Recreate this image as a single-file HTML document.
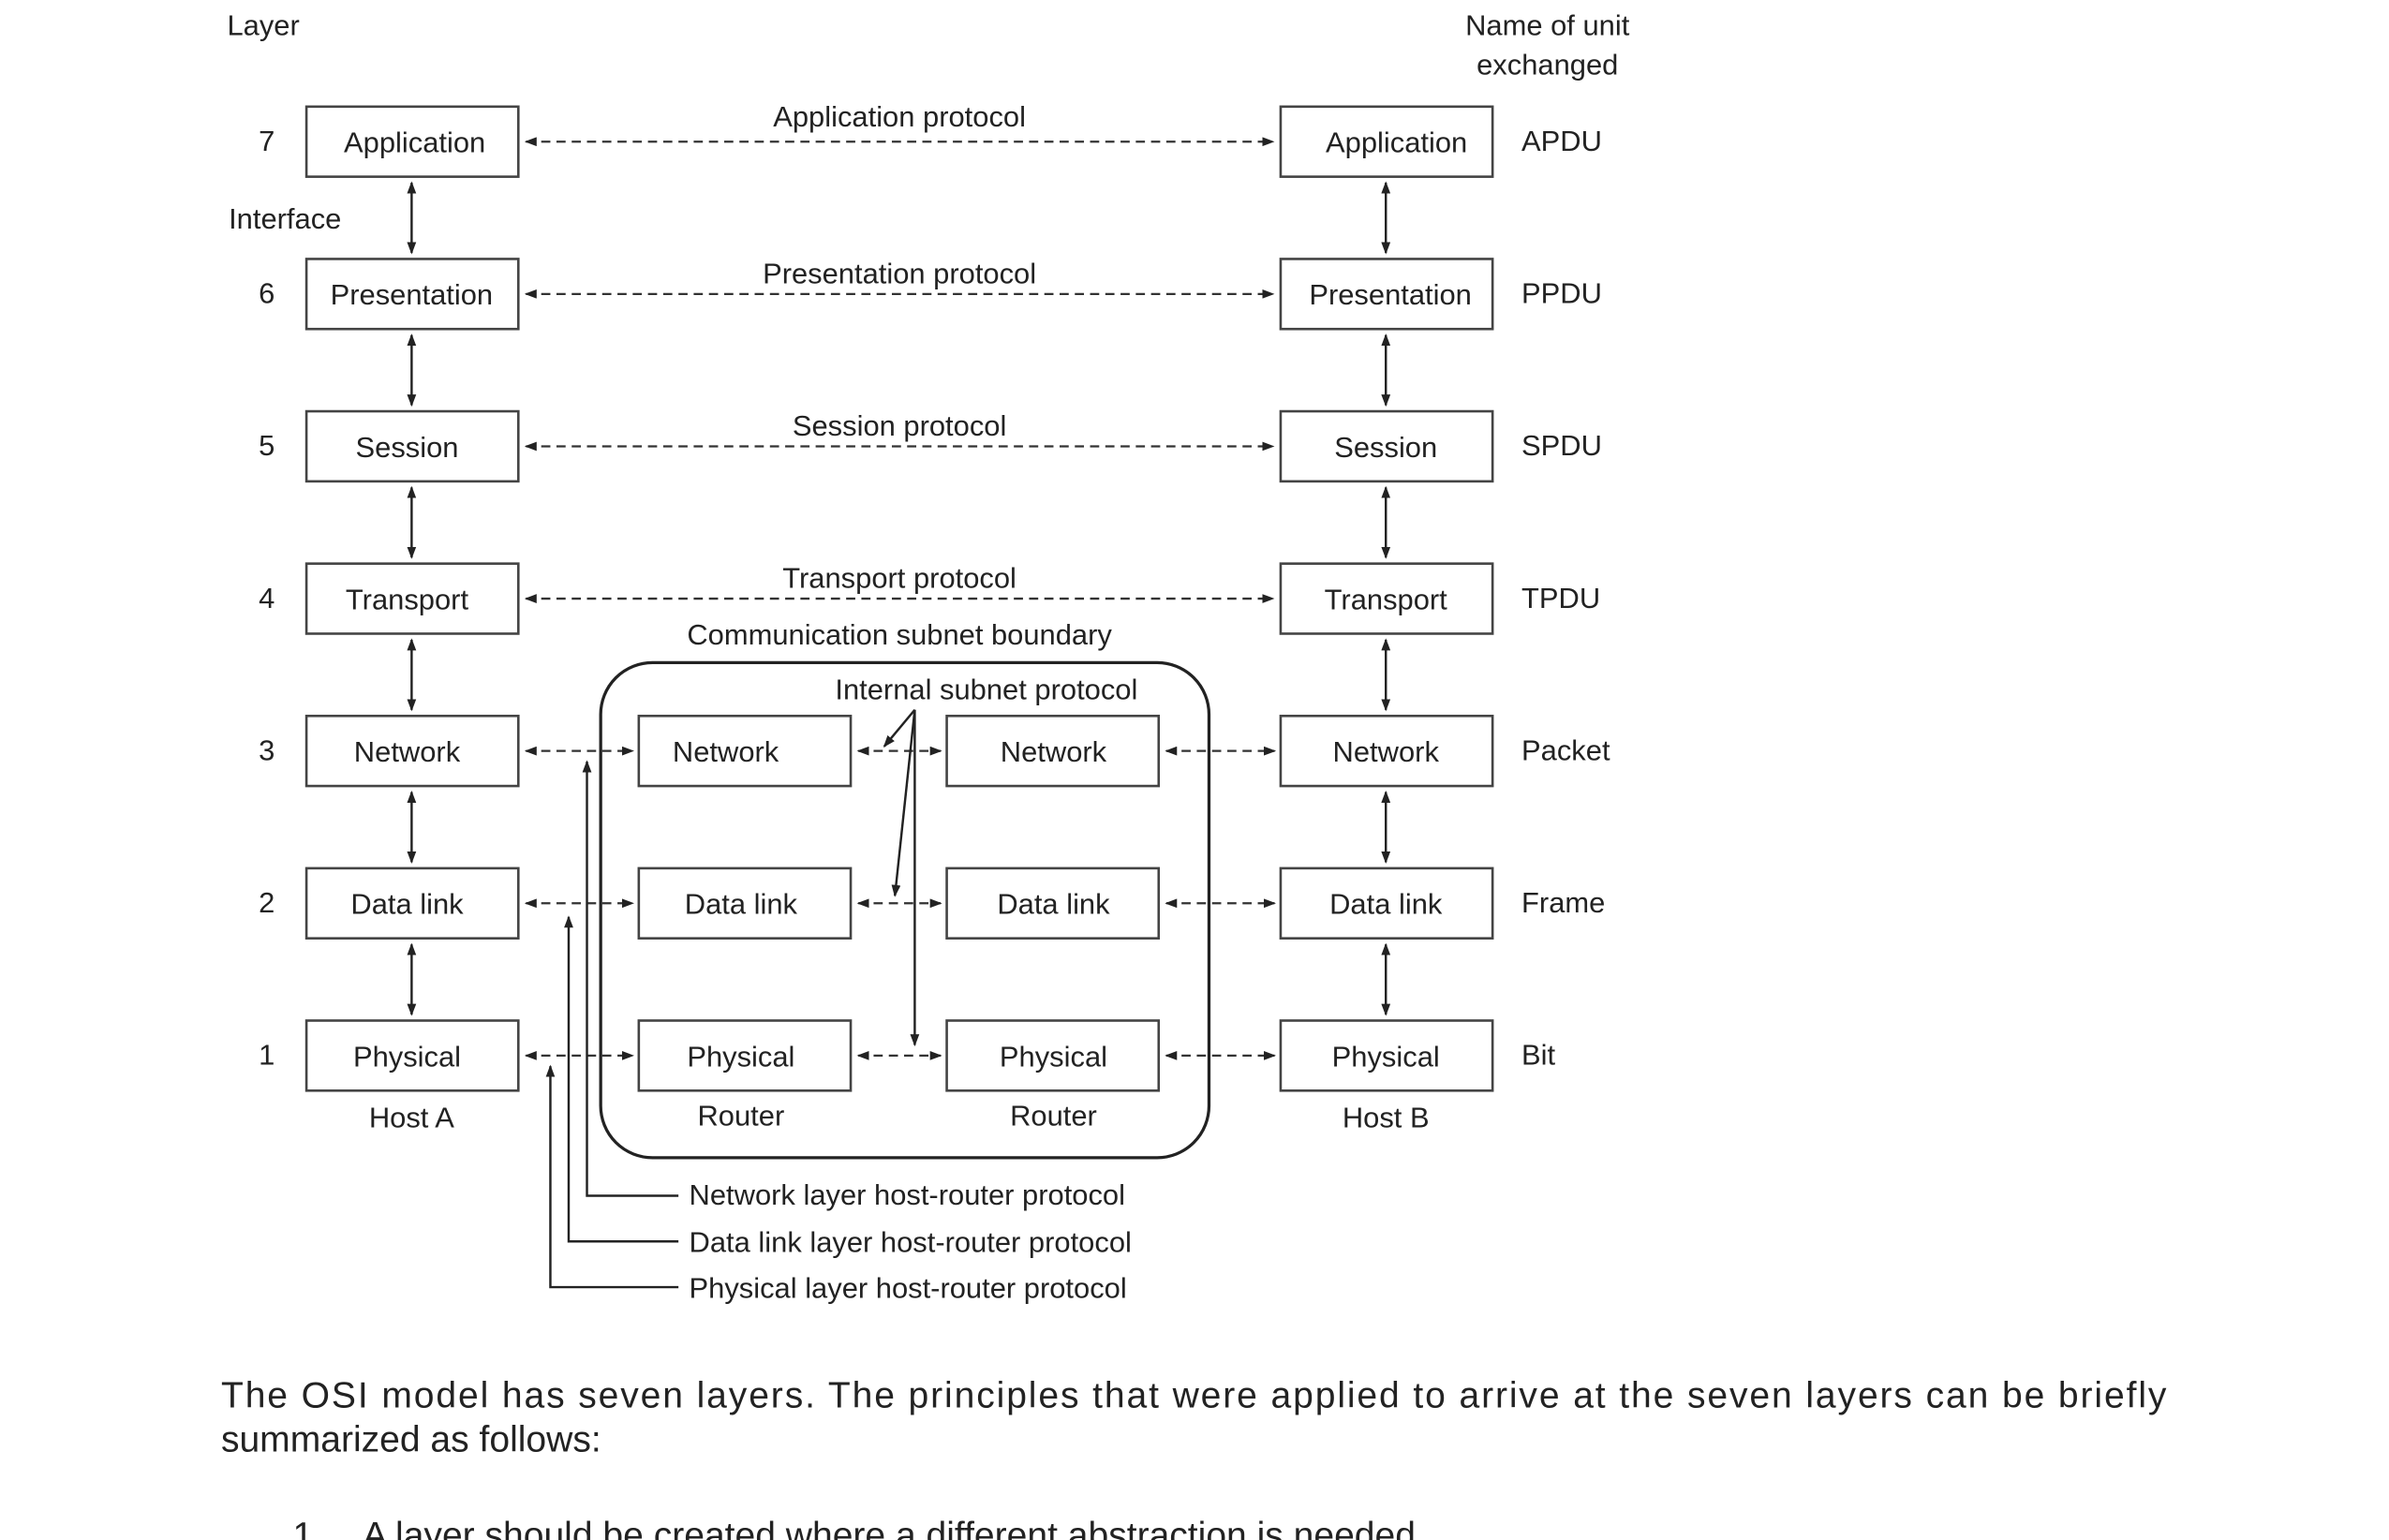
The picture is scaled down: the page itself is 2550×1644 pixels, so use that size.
<!DOCTYPE html>
<html><head><meta charset="utf-8"><style>
html,body{margin:0;padding:0;background:#fff;}
svg{display:block;}
text{font-family:"Liberation Sans",sans-serif;fill:#222;}
</style></head><body>
<svg width="2550" height="1644" viewBox="0 0 1567 1011" preserveAspectRatio="none" xmlns="http://www.w3.org/2000/svg">
<defs>
<marker id="a" markerWidth="8" markerHeight="6" refX="7" refY="3" orient="auto" markerUnits="userSpaceOnUse"><path d="M0,0 L8,3 L0,6 z" fill="#222"/></marker>
<marker id="b" markerWidth="8" markerHeight="6" refX="1" refY="3" orient="auto" markerUnits="userSpaceOnUse"><path d="M8,0 L0,3 L8,6 z" fill="#222"/></marker>
</defs>
<g font-size="19">
<text x="149" y="23">Layer</text>
<text x="1015" y="23" text-anchor="middle">Name of unit</text>
<text x="1015" y="49" text-anchor="middle">exchanged</text>
<text x="150" y="150">Interface</text>
</g>
<g fill="#fff" stroke="#444" stroke-width="1.6">
<rect x="201" y="70" width="139" height="46"/><rect x="201" y="170" width="139" height="46"/>
<rect x="201" y="270" width="139" height="46"/><rect x="201" y="370" width="139" height="46"/>
<rect x="201" y="470" width="139" height="46"/><rect x="201" y="570" width="139" height="46"/>
<rect x="201" y="670" width="139" height="46"/>
<rect x="840" y="70" width="139" height="46"/><rect x="840" y="170" width="139" height="46"/>
<rect x="840" y="270" width="139" height="46"/><rect x="840" y="370" width="139" height="46"/>
<rect x="840" y="470" width="139" height="46"/><rect x="840" y="570" width="139" height="46"/>
<rect x="840" y="670" width="139" height="46"/>
<rect x="394" y="435" width="399" height="325" rx="34" fill="none" stroke="#222" stroke-width="2"/>
<rect x="419" y="470" width="139" height="46"/><rect x="419" y="570" width="139" height="46"/><rect x="419" y="670" width="139" height="46"/>
<rect x="621" y="470" width="139" height="46"/><rect x="621" y="570" width="139" height="46"/><rect x="621" y="670" width="139" height="46"/>
</g>
<g font-size="19" text-anchor="middle">
<text x="272" y="100">Application</text><text x="270" y="200">Presentation</text><text x="267" y="300">Session</text>
<text x="267" y="400">Transport</text><text x="267" y="500">Network</text><text x="267" y="600">Data link</text><text x="267" y="700">Physical</text>
<text x="916" y="100">Application</text><text x="912" y="200">Presentation</text><text x="909" y="300">Session</text>
<text x="909" y="400">Transport</text><text x="909" y="500">Network</text><text x="909" y="600">Data link</text><text x="909" y="700">Physical</text>
<text x="476" y="500">Network</text><text x="486" y="600">Data link</text><text x="486" y="700">Physical</text>
<text x="691" y="500">Network</text><text x="691" y="600">Data link</text><text x="691" y="700">Physical</text>
<text x="270" y="740">Host A</text><text x="486" y="739">Router</text><text x="691" y="739">Router</text><text x="909" y="740">Host B</text>
<text x="590" y="83">Application protocol</text><text x="590" y="186">Presentation protocol</text>
<text x="590" y="286">Session protocol</text><text x="590" y="386">Transport protocol</text>
<text x="590" y="423">Communication subnet boundary</text><text x="647" y="459">Internal subnet protocol</text>
<text x="175" y="99">7</text><text x="175" y="199">6</text><text x="175" y="299">5</text><text x="175" y="399">4</text>
<text x="175" y="499">3</text><text x="175" y="599">2</text><text x="175" y="699">1</text>
</g>
<g font-size="19">
<text x="998" y="99">APDU</text><text x="998" y="199">PPDU</text><text x="998" y="299">SPDU</text><text x="998" y="399">TPDU</text>
<text x="998" y="499">Packet</text><text x="998" y="599">Frame</text><text x="998" y="699">Bit</text>
<text x="452" y="791">Network layer host-router protocol</text>
<text x="452" y="822">Data link layer host-router protocol</text>
<text x="452" y="852">Physical layer host-router protocol</text>
</g>
<g stroke="#333" stroke-width="1.4" stroke-dasharray="6,4" marker-start="url(#b)" marker-end="url(#a)" fill="none">
<line x1="345" y1="93" x2="835" y2="93"/><line x1="345" y1="193" x2="835" y2="193"/>
<line x1="345" y1="293" x2="835" y2="293"/><line x1="345" y1="393" x2="835" y2="393"/>
<line x1="345" y1="493" x2="415" y2="493"/><line x1="345" y1="593" x2="415" y2="593"/><line x1="345" y1="693" x2="415" y2="693"/>
<line x1="563" y1="493" x2="617" y2="493"/><line x1="563" y1="593" x2="617" y2="593"/><line x1="563" y1="693" x2="617" y2="693"/>
<line x1="765" y1="493" x2="836" y2="493"/><line x1="765" y1="593" x2="836" y2="593"/><line x1="765" y1="693" x2="836" y2="693"/>
</g>
<g stroke="#222" stroke-width="1.5" marker-start="url(#b)" marker-end="url(#a)">
<line x1="270" y1="120" x2="270" y2="166"/><line x1="270" y1="220" x2="270" y2="266"/><line x1="270" y1="320" x2="270" y2="366"/>
<line x1="270" y1="420" x2="270" y2="466"/><line x1="270" y1="520" x2="270" y2="566"/><line x1="270" y1="620" x2="270" y2="666"/>
<line x1="909" y1="120" x2="909" y2="166"/><line x1="909" y1="220" x2="909" y2="266"/><line x1="909" y1="320" x2="909" y2="366"/>
<line x1="909" y1="420" x2="909" y2="466"/><line x1="909" y1="520" x2="909" y2="566"/><line x1="909" y1="620" x2="909" y2="666"/>
</g>
<g stroke="#222" stroke-width="1.5" fill="none" marker-end="url(#a)">
<polyline points="445,785 385,785 385,500"/>
<polyline points="445,815 373,815 373,602"/>
<polyline points="445,845 361,845 361,700"/>
<line x1="600" y1="466" x2="580" y2="490"/>
<line x1="600" y1="466" x2="587" y2="588"/>
<line x1="600" y1="466" x2="600" y2="686"/>
</g>
<g font-size="24">
<text x="145" y="924" textLength="1276" lengthAdjust="spacing">The OSI model has seven layers. The principles that were applied to arrive at the seven layers can be briefly</text>
<text x="145" y="953">summarized as follows:</text>
<text x="192" y="1016">1.</text>
<text x="238" y="1016">A layer should be created where a different abstraction is needed.</text>
</g>
</svg>
</body></html>
